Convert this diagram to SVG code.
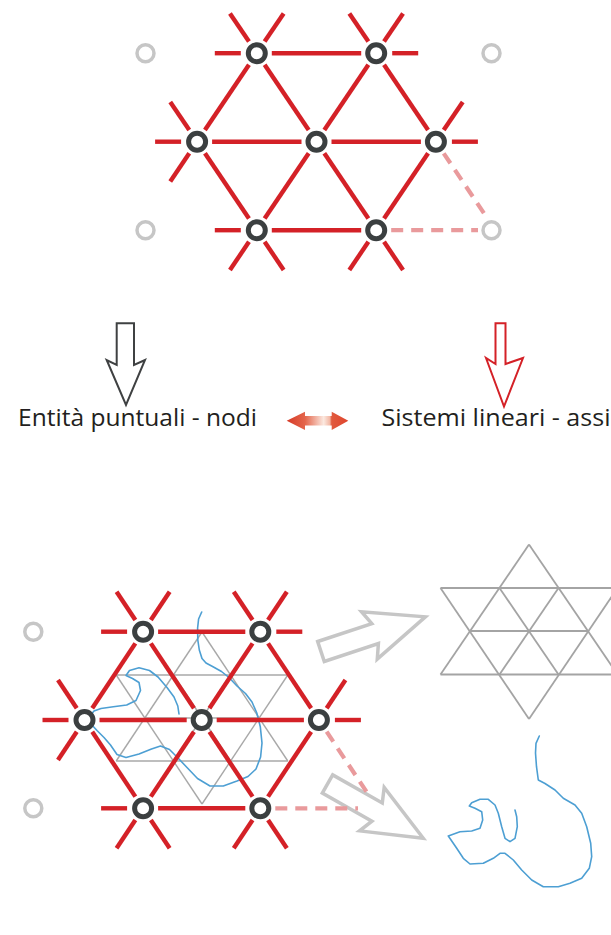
<svg xmlns="http://www.w3.org/2000/svg" xmlns:xlink="http://www.w3.org/1999/xlink" width="611" height="935" viewBox="0 0 611 935">
  <style>
    .edge { stroke: #d42127; stroke-width: 4.4; stroke-linecap: butt; fill: none; }
    .dash { stroke: #e99a9c; stroke-width: 4.2; stroke-dasharray: 12 8; fill: none; }
    .node { fill: #ffffff; stroke: #3b3f40; stroke-width: 5; }
    .ghost { fill: #ffffff; stroke: #c6c6c6; stroke-width: 3.5; }
    .grid { stroke: #a4a4a4; stroke-width: 1.8; fill: none; stroke-linejoin: miter; }
    .grid-in { stroke: #a8a8a8; stroke-width: 1.4; fill: none; }
    .trace { stroke: #4d9fd3; stroke-width: 1.6; fill: none; stroke-linejoin: round; stroke-linecap: round; }
    .big-arrow { fill: none; stroke: #c6c6c6; stroke-width: 3.5; stroke-linejoin: miter; }
    .label { font-family: "Open Sans", "Noto Sans", "Liberation Sans", sans-serif; font-size: 24px; fill: #231f20; }
  </style>
  <defs>
    <!-- hollow block arrow pointing along +x, tail at origin -->
    <path id="blockArrow" d="M0,-10.5 L57,-10.5 L51,-25 L110,0 L51,25 L57,10.5 L0,10.5 Z"/>
    <linearGradient id="swap" x1="286.7" y1="0" x2="348.3" y2="0" gradientUnits="userSpaceOnUse">
      <stop offset="0" stop-color="#d63a27"/>
      <stop offset="0.3" stop-color="#e4664c"/>
      <stop offset="0.6" stop-color="#fbe9e0"/>
      <stop offset="0.7" stop-color="#f3b7a4"/>
      <stop offset="0.73" stop-color="#e15a3e"/>
      <stop offset="1" stop-color="#df452d"/>
    </linearGradient>
  </defs>

  <rect x="0" y="0" width="611" height="935" fill="#ffffff"/>

  <!-- ===== upper lattice ===== -->
  <g id="connectors-top">
    <!-- horizontal members -->
    <line class="edge" x1="271.8" y1="53.2" x2="361.2" y2="53.2"/>
    <line class="edge" x1="212.1" y1="141.7" x2="301.5" y2="141.7"/>
    <line class="edge" x1="331.5" y1="141.7" x2="420.9" y2="141.7"/>
    <line class="edge" x1="271.8" y1="230.2" x2="361.2" y2="230.2"/>
    <!-- diagonal members -->
    <line class="edge" x1="248.97" y1="64.81" x2="204.93" y2="130.09"/>
    <line class="edge" x1="264.63" y1="64.81" x2="308.67" y2="130.09"/>
    <line class="edge" x1="368.37" y1="64.81" x2="324.33" y2="130.09"/>
    <line class="edge" x1="384.03" y1="64.81" x2="428.07" y2="130.09"/>
    <line class="edge" x1="204.93" y1="153.31" x2="248.97" y2="218.59"/>
    <line class="edge" x1="308.67" y1="153.31" x2="264.63" y2="218.59"/>
    <line class="edge" x1="324.33" y1="153.31" x2="368.37" y2="218.59"/>
    <line class="edge" x1="428.07" y1="153.31" x2="384.03" y2="218.59"/>
    <!-- open ends -->
    <line class="edge" x1="248.97" y1="41.59" x2="229.95" y2="13.41"/>
    <line class="edge" x1="264.63" y1="41.59" x2="283.65" y2="13.41"/>
    <line class="edge" x1="240.8" y1="53.2" x2="214.8" y2="53.2"/>
    <line class="edge" x1="368.37" y1="41.59" x2="349.35" y2="13.41"/>
    <line class="edge" x1="384.03" y1="41.59" x2="403.05" y2="13.41"/>
    <line class="edge" x1="392.2" y1="53.2" x2="418.2" y2="53.2"/>
    <line class="edge" x1="189.27" y1="130.09" x2="170.25" y2="101.91"/>
    <line class="edge" x1="189.27" y1="153.31" x2="170.25" y2="181.49"/>
    <line class="edge" x1="181.1" y1="141.7" x2="155.1" y2="141.7"/>
    <line class="edge" x1="443.73" y1="130.09" x2="462.75" y2="101.91"/>
    <line class="edge" x1="451.9" y1="141.7" x2="477.9" y2="141.7"/>
    <line class="edge" x1="248.97" y1="241.81" x2="229.95" y2="269.99"/>
    <line class="edge" x1="264.63" y1="241.81" x2="283.65" y2="269.99"/>
    <line class="edge" x1="240.8" y1="230.2" x2="214.8" y2="230.2"/>
    <line class="edge" x1="368.37" y1="241.81" x2="349.35" y2="269.99"/>
    <line class="edge" x1="384.03" y1="241.81" x2="403.05" y2="269.99"/>
    <!-- missing members -->
    <line class="dash" x1="443.7" y1="153.3" x2="484.5" y2="214"/>
    <line class="dash" x1="391.2" y1="230.2" x2="478" y2="230.2"/>
  </g>

  <g id="top-empty-nw"><circle class="ghost" cx="145.5" cy="53.2" r="8.5"/></g>
  <g id="top-empty-ne"><circle class="ghost" cx="491.5" cy="53.2" r="8.5"/></g>
  <g id="top-empty-sw"><circle class="ghost" cx="145.5" cy="230.2" r="8.5"/></g>
  <g id="top-empty-se"><circle class="ghost" cx="491.5" cy="230.2" r="8.5"/></g>
  <g id="top-a1"><circle class="node" cx="256.8" cy="53.2" r="8.5"/></g>
  <g id="top-a2"><circle class="node" cx="376.2" cy="53.2" r="8.5"/></g>
  <g id="top-b1"><circle class="node" cx="197.1" cy="141.7" r="8.5"/></g>
  <g id="top-b2"><circle class="node" cx="316.5" cy="141.7" r="8.5"/></g>
  <g id="top-b3"><circle class="node" cx="435.9" cy="141.7" r="8.5"/></g>
  <g id="top-c1"><circle class="node" cx="256.8" cy="230.2" r="8.5"/></g>
  <g id="top-c2"><circle class="node" cx="376.2" cy="230.2" r="8.5"/></g>

  <!-- ===== labels and arrows ===== -->
  <g id="label-points">
    <path d="M116.7,323.3 L134,323.3 L134,365 L145,360 L126,405 L106.7,360 L116.7,365 Z" fill="none" stroke="#3f4142" stroke-width="2" stroke-linejoin="miter"/>
    <text class="label" x="18" y="426" textLength="239" lengthAdjust="spacingAndGlyphs">Entità puntuali - nodi</text>
  </g>
  <g id="label-axes">
    <path d="M495.5,323.3 L505.5,323.3 L505.5,364 L523,358 L504,406.5 L486,358 L495.5,364 Z" fill="none" stroke="#d42127" stroke-width="2" stroke-linejoin="miter"/>
    <text class="label" x="381.5" y="426" textLength="229" lengthAdjust="spacingAndGlyphs">Sistemi lineari - assi</text>
  </g>
  <g id="swap-arrow">
    <path d="M286.7,420.7 L305,411.7 L305,416 L331.7,416 L331.7,411.7 L348.3,420.7 L331.7,430 L331.7,425.5 L305,425.5 L305,430 Z" fill="url(#swap)"/>
  </g>

  <!-- ===== lower lattice with overlays ===== -->
  <g id="inner-grid">
    <line class="grid-in" x1="116.2" y1="675" x2="287.8" y2="675"/>
    <line class="grid-in" x1="144.8" y1="718" x2="259.2" y2="718"/>
    <line class="grid-in" x1="116.2" y1="761" x2="287.8" y2="761"/>
    <line class="grid-in" x1="202" y1="632" x2="116.2" y2="761"/>
    <line class="grid-in" x1="202" y1="632" x2="287.8" y2="761"/>
    <line class="grid-in" x1="116.2" y1="675" x2="202" y2="804"/>
    <line class="grid-in" x1="287.8" y1="675" x2="202" y2="804"/>
    <line class="grid-in" x1="173.4" y1="675" x2="230.6" y2="761"/>
    <line class="grid-in" x1="230.6" y1="675" x2="173.4" y2="761"/>
  </g>

  <g id="inner-trace">
    <polyline class="trace" points="201.7,612 198.6,619 197.6,628 197.8,640 199.3,650 202,658.5 206,663 213,666.8 221.5,671.5 229,677.5 237,686 245.5,693.5 252,702 256.8,713 260.3,726.7 262,743 260.6,757 256,769 248,776.5 237,781 223.3,786 210,786 197.5,778.5 187,767.5 178,758 169.5,749.5 160.5,746 151.5,749 139,754 126,757.5 117,754.5 110.5,745 104,737.5 97,730.5 91,724 90,716 94,711 101,708.5 113.3,706.8 126.7,705 136,700.5 140.5,690.5 139,682.5 132.5,678.5 126,675.5 129.5,670.5 139,667.8 149.5,670.5 158,677 167,687.5 174,697 177.8,706 179,714"/>
  </g>

  <g id="connectors-bottom">
    <!-- horizontal members -->
    <line class="edge" x1="158.1" y1="631.7" x2="245.3" y2="631.7"/>
    <line class="edge" x1="99.5" y1="720" x2="186.7" y2="720"/>
    <line class="edge" x1="216.7" y1="720" x2="303.9" y2="720"/>
    <line class="edge" x1="158.1" y1="808.3" x2="245.3" y2="808.3"/>
    <!-- diagonal members -->
    <line class="edge" x1="135.36" y1="643.36" x2="92.24" y2="708.34"/>
    <line class="edge" x1="150.84" y1="643.36" x2="193.96" y2="708.34"/>
    <line class="edge" x1="252.56" y1="643.36" x2="209.44" y2="708.34"/>
    <line class="edge" x1="268.04" y1="643.36" x2="311.16" y2="708.34"/>
    <line class="edge" x1="92.24" y1="731.66" x2="135.36" y2="796.64"/>
    <line class="edge" x1="193.96" y1="731.66" x2="150.84" y2="796.64"/>
    <line class="edge" x1="209.44" y1="731.66" x2="252.56" y2="796.64"/>
    <line class="edge" x1="311.16" y1="731.66" x2="268.04" y2="796.64"/>
    <!-- open ends -->
    <line class="edge" x1="135.36" y1="620.04" x2="116.56" y2="591.71"/>
    <line class="edge" x1="150.84" y1="620.04" x2="169.64" y2="591.71"/>
    <line class="edge" x1="127.1" y1="631.7" x2="101.1" y2="631.7"/>
    <line class="edge" x1="252.56" y1="620.04" x2="233.76" y2="591.71"/>
    <line class="edge" x1="268.04" y1="620.04" x2="286.84" y2="591.71"/>
    <line class="edge" x1="276.3" y1="631.7" x2="302.3" y2="631.7"/>
    <line class="edge" x1="76.76" y1="708.34" x2="57.96" y2="680.01"/>
    <line class="edge" x1="76.76" y1="731.66" x2="57.96" y2="759.99"/>
    <line class="edge" x1="68.5" y1="720" x2="42.5" y2="720"/>
    <line class="edge" x1="326.64" y1="708.34" x2="345.44" y2="680.01"/>
    <line class="edge" x1="334.9" y1="720" x2="360.9" y2="720"/>
    <line class="edge" x1="135.36" y1="819.96" x2="116.56" y2="848.29"/>
    <line class="edge" x1="150.84" y1="819.96" x2="169.64" y2="848.29"/>
    <line class="edge" x1="127.1" y1="808.3" x2="101.1" y2="808.3"/>
    <line class="edge" x1="252.56" y1="819.96" x2="233.76" y2="848.29"/>
    <line class="edge" x1="268.04" y1="819.96" x2="286.84" y2="848.29"/>
    <!-- outgoing block arrows -->
    <use href="#blockArrow" xlink:href="#blockArrow" class="big-arrow" transform="translate(321,651.5) rotate(-18.35)"/>
    <use href="#blockArrow" xlink:href="#blockArrow" class="big-arrow" transform="translate(327.5,784) rotate(29.5)"/>
    <!-- missing members -->
    <line class="dash" x1="326.64" y1="731.66" x2="368" y2="794"/>
    <line class="dash" x1="275.3" y1="808.3" x2="358" y2="808.3"/>
  </g>

  <g id="bottom-empty-nw"><circle class="ghost" cx="33.3" cy="631.7" r="8.5"/></g>
  <g id="bottom-empty-sw"><circle class="ghost" cx="33.3" cy="808.3" r="8.5"/></g>
  <g id="bottom-a1"><circle class="node" cx="143.1" cy="631.7" r="8.5"/></g>
  <g id="bottom-a2"><circle class="node" cx="260.3" cy="631.7" r="8.5"/></g>
  <g id="bottom-b1"><circle class="node" cx="84.5" cy="720" r="8.5"/></g>
  <g id="bottom-b2"><circle class="node" cx="201.7" cy="720" r="8.5"/></g>
  <g id="bottom-b3"><circle class="node" cx="318.9" cy="720" r="8.5"/></g>
  <g id="bottom-c1"><circle class="node" cx="143.1" cy="808.3" r="8.5"/></g>
  <g id="bottom-c2"><circle class="node" cx="260.3" cy="808.3" r="8.5"/></g>

  <!-- ===== extracted results ===== -->
  <g id="result-grid">
    <line class="grid" x1="440.5" y1="588" x2="617.5" y2="588"/>
    <line class="grid" x1="470" y1="631" x2="588" y2="631"/>
    <line class="grid" x1="440.5" y1="674.5" x2="617.5" y2="674.5"/>
    <line class="grid" x1="529" y1="544.5" x2="440.5" y2="674.5"/>
    <line class="grid" x1="529" y1="544.5" x2="617.5" y2="674.5"/>
    <line class="grid" x1="440.5" y1="588" x2="529" y2="719"/>
    <line class="grid" x1="617.5" y1="588" x2="529" y2="719"/>
    <line class="grid" x1="499.5" y1="588" x2="558.5" y2="674.5"/>
    <line class="grid" x1="558.5" y1="588" x2="499.5" y2="674.5"/>
  </g>

  <g id="result-trace">
    <polyline class="trace" points="539.3,736 536,743.3 535.5,753 536.5,766.7 538.3,780 545,783.5 555,790 563.3,798.3 575,805 581.7,813.3 586.7,826.7 590.7,843.3 591.7,856.7 589.3,868.3 581.7,878.3 570,883.3 558.3,886.7 543.3,886.7 531.7,880 521.7,870 513.3,860 505,853.3 500,853.3 493.3,858.3 483.3,863.3 470,864 463.3,858.3 456.7,848.3 448.3,836 460,831.7 471.7,831 480,828.3 482.7,820 481.7,811.7 475,808.3 469.3,806 471.7,802.7 480,799.3 488.3,799.3 495,805 498.3,813.3 501.7,826.7 505,838.3 510,841.7 515,838.3 517.3,826.7 516.7,816.7 515,810"/>
  </g>
</svg>
